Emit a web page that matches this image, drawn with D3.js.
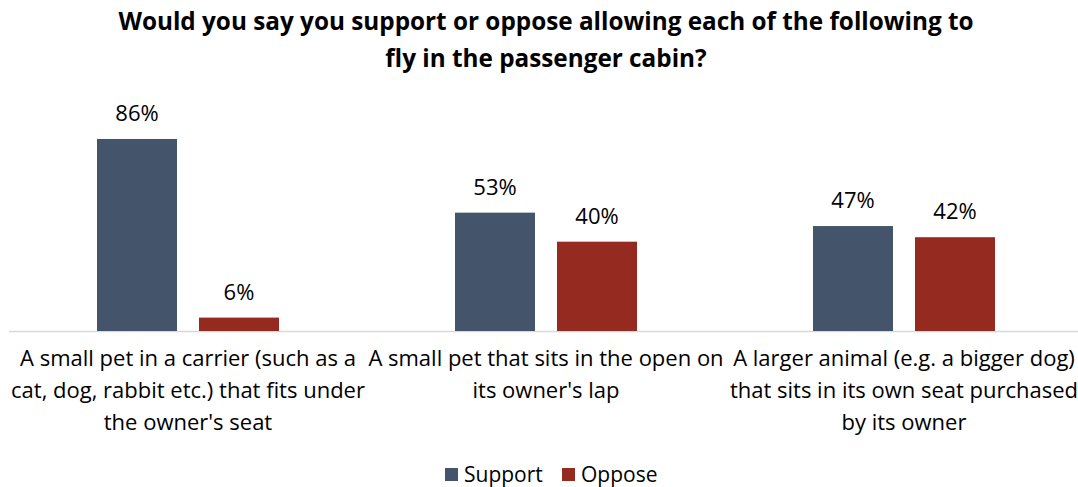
<!DOCTYPE html>
<html><head><meta charset="utf-8">
<script src="https://cdn.jsdelivr.net/npm/d3@7"></script>
<style>body{margin:0;background:#fff}svg{display:block}text{font-family:"Open Sans",sans-serif}</style>
</head><body><svg id="c" width="1078" height="487"></svg>
<script>
const categories = [
  ["A small pet in a carrier (such as a", "cat, dog, rabbit etc.) that fits under", "the owner's seat"],
  ["A small pet that sits in the open on", "its owner's lap"],
  ["A larger animal (e.g. a bigger dog)", "that sits in its own seat purchased", "by its owner"]
];
const seriesNames = ["Support", "Oppose"];
const support = [86, 53, 47];
const oppose = [6, 40, 42];
const colors = ["#44546A", "#952A21"];
const titleLines = ["Would you say you support or oppose allowing each of the following to", "fly in the passenger cabin?"];

const svg = d3.select("#c");
const base = 331;
const x0 = d3.scaleBand().domain(d3.range(3)).range([9, 1083]).paddingInner(0).paddingOuter(0);
const x1 = d3.scaleBand().domain(seriesNames).range([88, 88 + 182]).paddingInner(22/102).paddingOuter(0);
const y = d3.scaleLinear().domain([0, 100]).range([base, base - 223.3]);

svg.append("g").selectAll("text").data(titleLines).join("text")
  .attr("x", 546).attr("y", (d,i)=>30 + i*37).attr("text-anchor","middle")
  .attr("font-size", 24.3).attr("font-weight","bold").attr("fill","#000").text(d=>d);

svg.append("line").attr("x1",9).attr("x2",1078).attr("y1",base+0.5).attr("y2",base+0.5)
  .attr("stroke","#d9d9d9").attr("stroke-width",1.5);

const data = [support, oppose];
seriesNames.forEach((s, si) => {
  const g = svg.append("g");
  g.selectAll("rect").data(data[si]).join("rect")
    .attr("x", (d,i)=>x0(i) + x1(s)).attr("width", x1.bandwidth())
    .attr("y", d=>y(d)).attr("height", d=>base - y(d)).attr("fill", colors[si]);
  g.selectAll("text").data(data[si]).join("text")
    .attr("x", (d,i)=>x0(i) + x1(s) + x1.bandwidth()/2).attr("y", d=>y(d) - 18)
    .attr("text-anchor","middle").attr("font-size",22).attr("fill","#000").text(d=>d+"%");
});

categories.forEach((lines, i) => {
  svg.append("g").selectAll("text").data(lines).join("text")
    .attr("x", x0(i) + x0.bandwidth()/2).attr("y", (d,j)=>366 + j*32)
    .attr("text-anchor","middle").attr("font-size",22).attr("fill","#000").text(d=>d);
});

const leg = svg.append("g");
const legX = [445, 562];
seriesNames.forEach((s, si) => {
  leg.append("rect").attr("x", legX[si]).attr("y", 468).attr("width", 13).attr("height", 13).attr("fill", colors[si]);
  leg.append("text").attr("x", legX[si] + 19).attr("y", 482).attr("font-size",21).attr("fill","#000").text(s);
});
</script></body></html>
